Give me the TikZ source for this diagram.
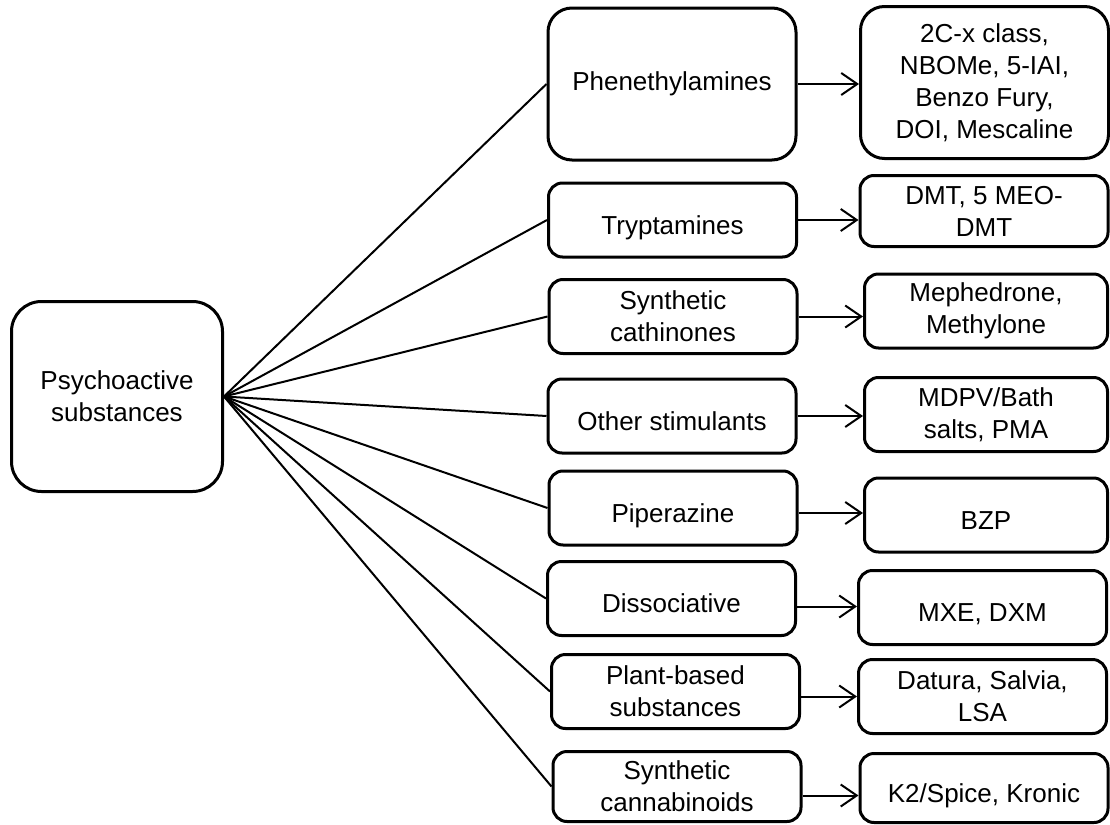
\documentclass[tikz,border=0pt]{standalone}
\usepackage{fontspec}
\setmainfont{Liberation Sans}
\usetikzlibrary{arrows.meta}

\tikzstyle{rootS}=[rectangle,rounded corners=15pt,draw,line width=1.5pt,minimum width=105.5pt,minimum height=95pt,inner sep=0pt,align=center]
\tikzstyle{cS}=[rectangle,rounded corners=7pt,draw,line width=1.5pt,minimum width=124pt,minimum height=37pt,inner sep=0pt,align=center]
\tikzstyle{bigS}=[rounded corners=12pt,minimum height=76pt]
\tikzstyle{oneS}=[text height=17pt,text depth=3pt]
\tikzstyle{lS}=[line width=1pt]
\tikzstyle{aS}=[line width=1pt,-{Straight Barb[length=8pt,width=11pt]}]

\begin{document}
\begin{tikzpicture}[x=0.5pt,y=-0.5pt,font=\fontsize{13}{16}\selectfont]
                \useasboundingbox (0,0) rectangle (1110,825);
                \draw (117,396.5) node[rootS] (ps) {Psychoactive\\substances};
                % classes
                \draw (672,84) node[cS,bigS] (m1) {Phenethylamines};
                \draw (672.5,220) node[cS,oneS] (m2) {Tryptamines};
                \draw (673,316.5) node[cS] (m3) {Synthetic\\cathinones};
                \draw (672,416) node[cS,oneS] (m4) {Other stimulants};
                \draw (673,508) node[cS,oneS] (m5) {Piperazine};
                \draw (671.5,598.5) node[cS,oneS] (m6) {Dissociative};
                \draw (675.5,691.5) node[cS] (m7) {Plant-based\\substances};
                \draw (677,786.5) node[cS,minimum height=35pt] (m8) {Synthetic\\cannabinoids};
                % examples
                \draw (984.5,82.5) node[cS,bigS] (r1) {2C-x class,\\NBOMe, 5-IAI,\\Benzo Fury,\\DOI, Mescaline};
                \draw (984,211) node[cS,minimum height=35.5pt] (r2) {DMT, 5 MEO-\\DMT};
                \draw (986,311) node[cS,minimum width=121.5pt] (r3) {Mephedrone,\\Methylone};
                \draw (986,414.5) node[cS,minimum width=121.5pt] (r4) {MDPV/Bath\\salts, PMA};
                \draw (986,515) node[cS,oneS,minimum width=121.5pt] (r5) {BZP};
                \draw (982.5,607.5) node[cS,oneS] (r6) {MXE, DXM};
                \draw (982.5,696.5) node[cS] (r7) {Datura, Salvia,\\LSA};
                \draw (984,788) node[cS,oneS,minimum height=34.5pt] (r8) {K2/Spice, Kronic};
                \path
                    (ps.east) edge[lS] (m1.west)
                    (ps.east) edge[lS] (m2.west)
                    (ps.east) edge[lS] (m3.west)
                    (ps.east) edge[lS] (m4.west)
                    (ps.east) edge[lS] (m5.west)
                    (ps.east) edge[lS] (m6.west)
                    (ps.east) edge[lS] (m7.west)
                    (ps.east) edge[lS] (m8.west)
                ;
                \path
                    (m1.east) edge[aS] (m1.east -| r1.west)
                    (m2.east) edge[aS] (m2.east -| r2.west)
                    (m3.east) edge[aS] (m3.east -| r3.west)
                    (m4.east) edge[aS] (m4.east -| r4.west)
                    ([yshift=-2.5pt]m5.east) edge[aS] ([yshift=-2.5pt]m5.east -| r5.west)
                    ([yshift=-4pt]m6.east) edge[aS] ([yshift=-4pt]m6.east -| r6.west)
                    ([yshift=-2.5pt]m7.east) edge[aS] ([yshift=-2.5pt]m7.east -| r7.west)
                    ([yshift=-4.5pt]m8.east) edge[aS] ([yshift=-4.5pt]m8.east -| r8.west)
                ;
        \end{tikzpicture}
\end{document}
